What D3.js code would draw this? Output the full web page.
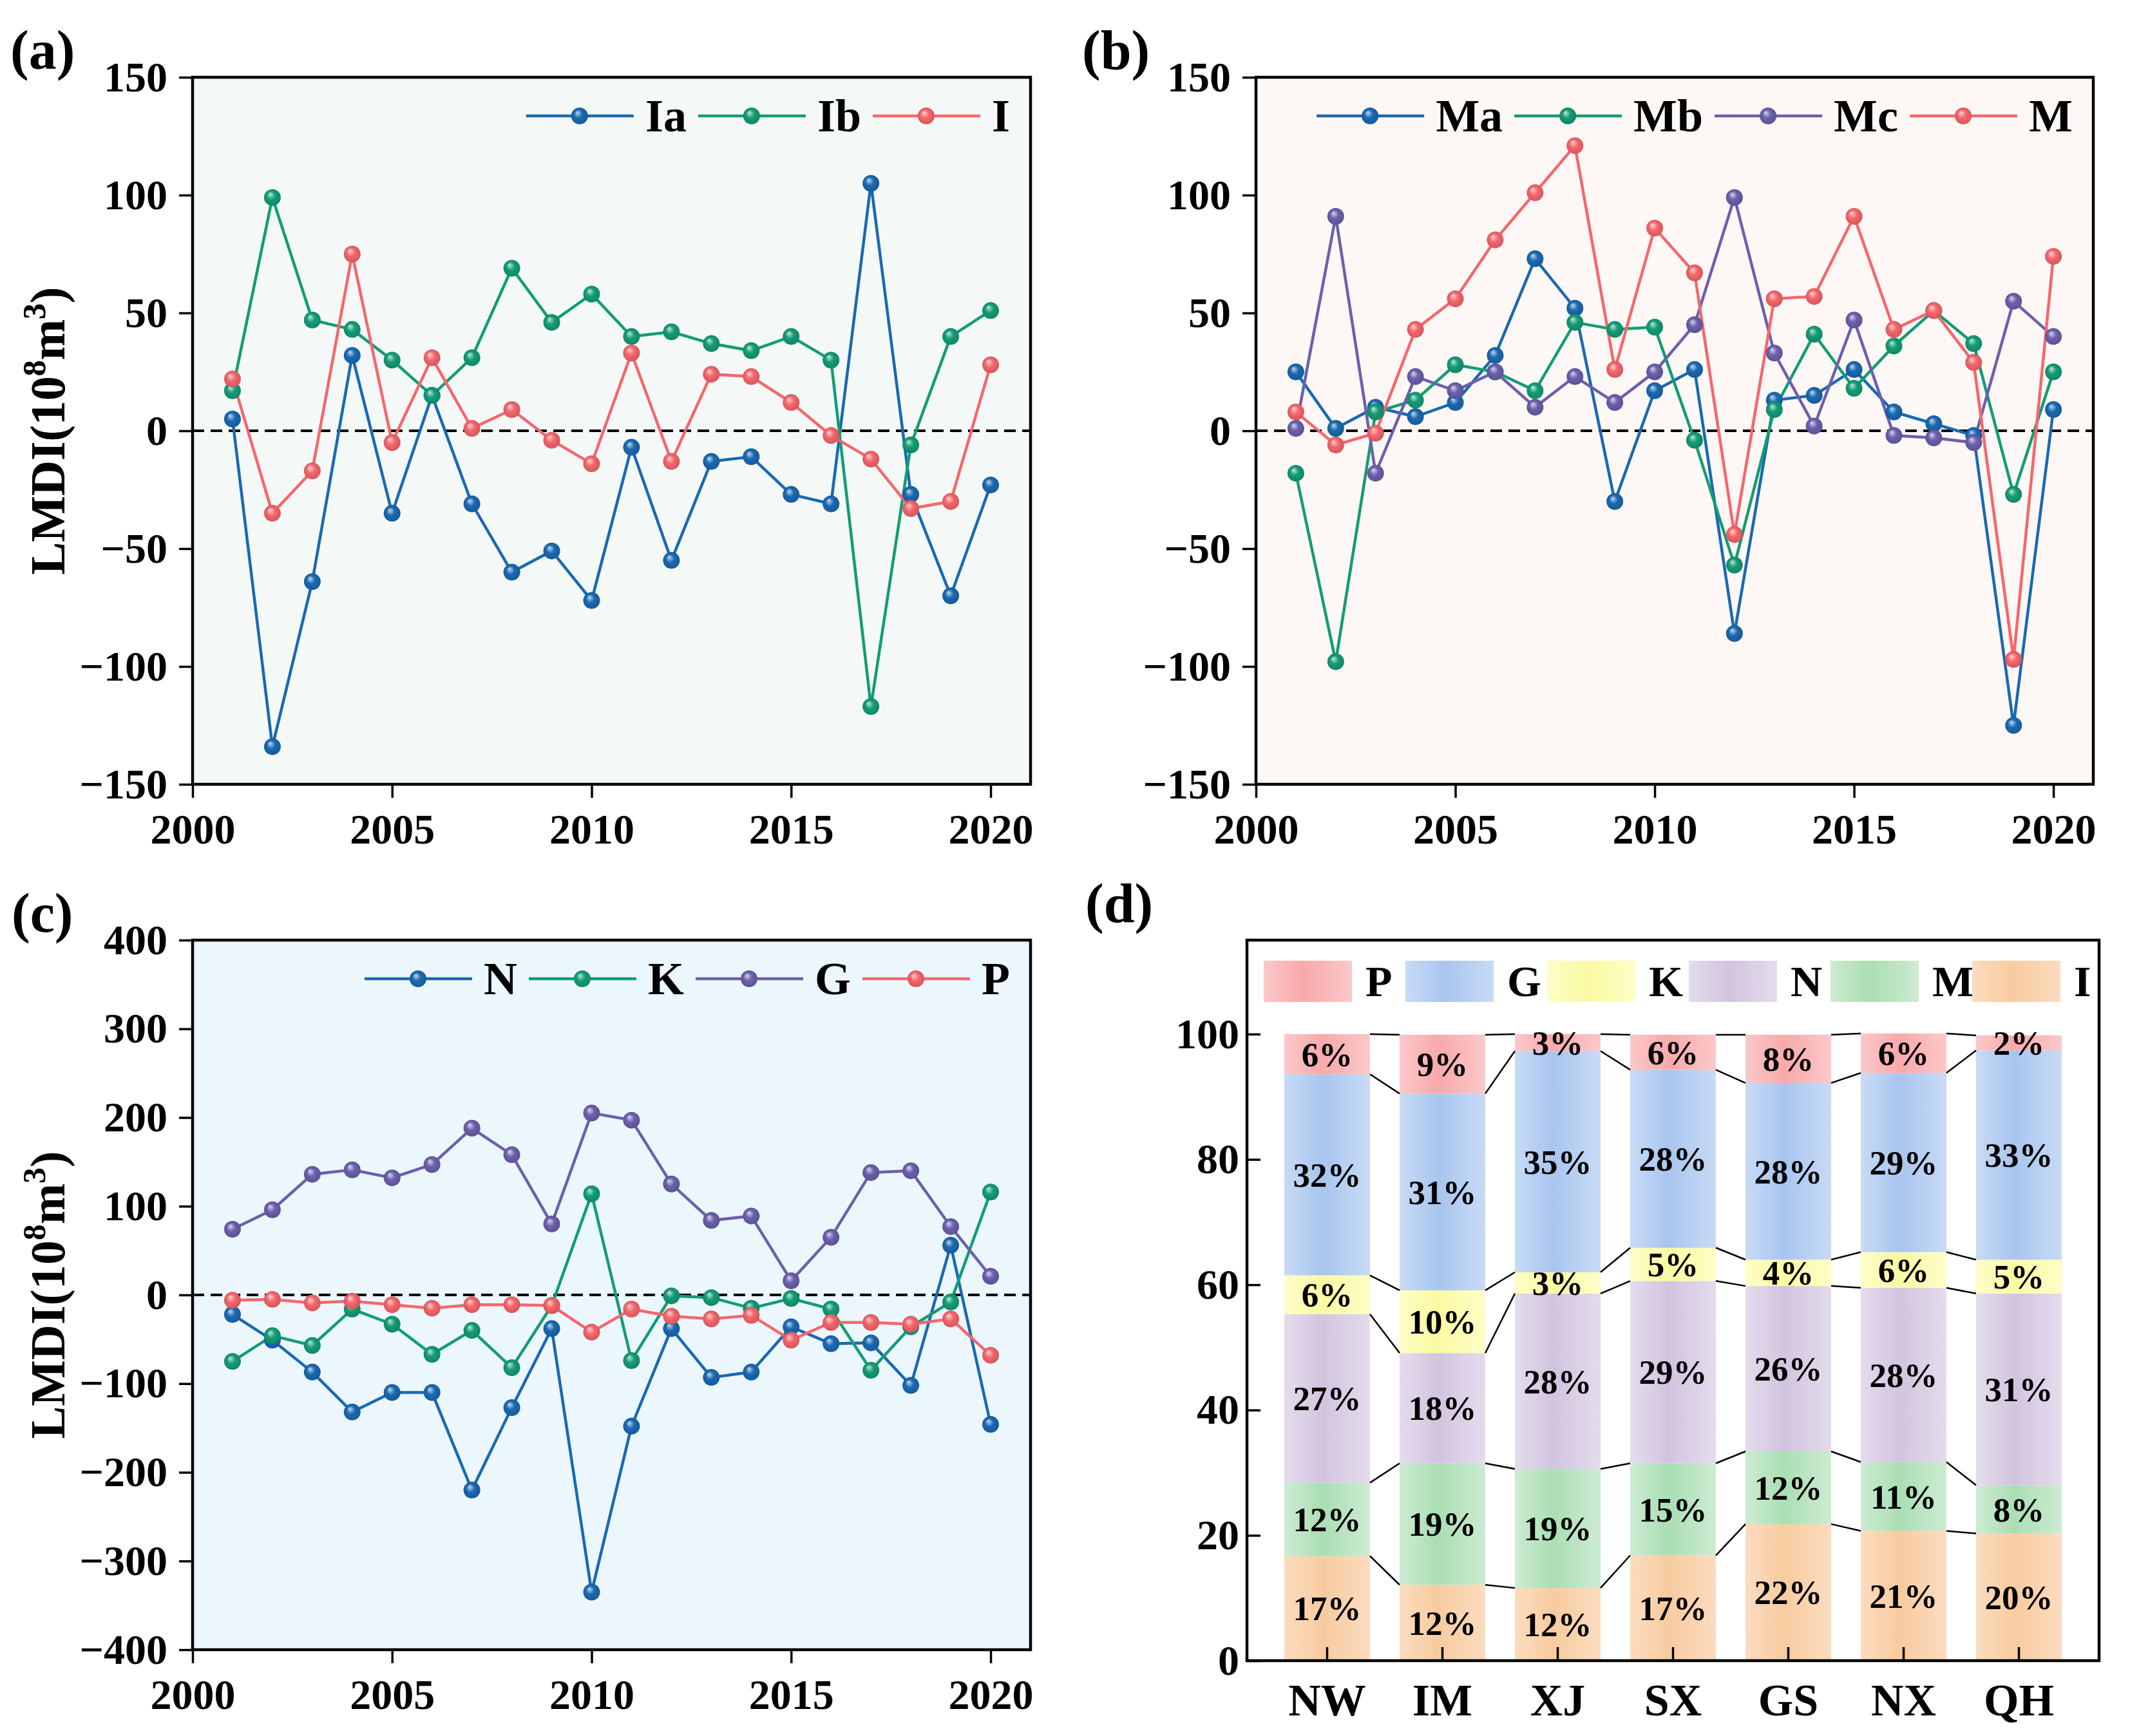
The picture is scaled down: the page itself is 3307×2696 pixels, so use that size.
<!DOCTYPE html>
<html>
<head>
<meta charset="utf-8">
<script src="https://cdn.jsdelivr.net/npm/d3@7"></script>
<style>
body{margin:0;background:#fff;}
svg text{font-family:"Liberation Serif","Times New Roman",serif;font-weight:bold;fill:#000;}
</style>
</head>
<body>
<svg id="fig" width="3307" height="2696"></svg>
<script>
// ---- data ----
var years = [2001,2002,2003,2004,2005,2006,2007,2008,2009,2010,2011,2012,2013,2014,2015,2016,2017,2018,2019,2020];
var yearTicks = [2000,2005,2010,2015,2020];
var ticksAB = [-150,-100,-50,0,50,100,150];
var ticksC = [-400,-300,-200,-100,0,100,200,300,400];
var ticksD = [0,20,40,60,80,100];

// panel (a)
var Ia = [5,-134,-64,32,-35,15,-31,-60,-51,-72,-7,-55,-13,-11,-27,-31,105,-27,-70,-23];
var Ib = [17,99,47,43,30,15,31,69,46,58,40,42,37,34,40,30,-117,-6,40,51];
var I_all = [22,-35,-17,75,-5,31,1,9,-4,-14,33,-13,24,23,12,-2,-12,-33,-30,28];

// panel (b)
var Ma = [25,1,10,6,12,32,73,52,-30,17,26,-86,13,15,26,8,3,-2,-125,9];
var Mb = [-18,-98,8,13,28,25,17,46,43,44,-4,-57,9,41,18,36,51,37,-27,25];
var Mc = [1,91,-18,23,17,25,10,23,12,25,45,99,33,2,47,-2,-3,-5,55,40];
var M_all = [8,-6,-1,43,56,81,101,121,26,86,67,-44,56,57,91,43,51,29,-97,74];

// panel (c)
var N_f = [-22,-51,-87,-132,-110,-110,-220,-127,-38,-335,-148,-38,-93,-87,-36,-55,-54,-102,56,-146];
var K_f = [-75,-46,-57,-16,-33,-67,-40,-82,-12,114,-74,-1,-3,-15,-4,-16,-85,-36,-8,116];
var G_f = [74,96,136,141,132,147,188,158,80,205,197,125,84,89,16,65,138,140,77,21];
var P_f = [-6,-5,-9,-7,-11,-15,-11,-11,-12,-42,-16,-24,-27,-23,-51,-31,-31,-33,-27,-68];

// panel (d): shares (%) per region, bottom to top
var regions = ["NW","IM","XJ","SX","GS","NX","QH"];
var factors = ["I","M","N","K","G","P"];
var shareI = [16.7,12.1,11.6,16.8,21.8,20.7,20.3];
var shareM = [11.7,19.4,19.0,14.7,11.6,11.0,7.7];
var shareN = [26.9,17.6,28.0,29.1,26.4,27.8,30.6];
var shareK = [6.2,10.0,3.4,5.3,4.2,5.7,5.4];
var shareG = [32.1,31.4,35.3,28.4,28.2,28.6,33.4];
var shareP = [6.4,9.4,2.7,5.6,7.7,6.3,2.4];

// ---- styles ----
var cBlue = "#1a69b2", cGreen = "#139c75", cRed = "#f6666c", cPurple = "#6b60ad";
var barCol = {
  P:{base:"#f8a9ab", light:"#fbc8c9"},
  G:{base:"#a8c5ef", light:"#c8dbf5"},
  K:{base:"#fafaa2", light:"#fefec8"},
  N:{base:"#d2c4df", light:"#e4dcec"},
  M:{base:"#aadeb3", light:"#cdebd2"},
  I:{base:"#f8cb9f", light:"#fbdcc0"}
};

var svg = d3.select("#fig");
var defs = svg.append("defs");
var fmt = d3.format("d");

function ballId(col){
  var id = "ball" + col.replace("#","");
  if(defs.select("#"+id).empty()){
    var rg = defs.append("radialGradient").attr("id",id)
      .attr("cx","0.5").attr("cy","0.5").attr("r","0.55")
      .attr("fx","0.36").attr("fy","0.3");
    rg.append("stop").attr("offset","0").attr("stop-color",d3.interpolateRgb(col,"#ffffff")(0.75));
    rg.append("stop").attr("offset","0.45").attr("stop-color",col);
    rg.append("stop").attr("offset","1").attr("stop-color",d3.color(col).darker(0.5));
  }
  return "url(#"+id+")";
}

function yLabel(g, x, y){
  var t = g.append("text")
    .attr("transform","translate("+x+","+y+") rotate(-90)")
    .attr("text-anchor","middle")
    .style("font-size","76px");
  t.append("tspan").text("LMDI(10");
  t.append("tspan").attr("dy",-30).style("font-size","50px").text("8");
  t.append("tspan").attr("dy",30).text("m");
  t.append("tspan").attr("dy",-30).style("font-size","50px").text("3");
  t.append("tspan").attr("dy",30).text(")");
}

function linePanel(p){
  var g = svg.append("g");
  var x = d3.scaleLinear().domain([2000,2021]).range([p.L,p.R]);
  var y = d3.scaleLinear().domain(p.dom).range([p.B,p.T]);

  g.append("rect").attr("x",p.L).attr("y",p.T)
    .attr("width",p.R-p.L).attr("height",p.B-p.T).attr("fill",p.bg);

  g.append("line")
    .attr("x1",p.L).attr("x2",p.R).attr("y1",y(0)).attr("y2",y(0))
    .attr("stroke","#000").attr("stroke-width",4).attr("stroke-dasharray","18,10");

  var line = d3.line().x(function(d,i){return x(years[i]);}).y(function(d){return y(d);});

  p.series.forEach(function(s){
    g.append("path").datum(s.values)
      .attr("d",line).attr("fill","none")
      .attr("stroke",s.color).attr("stroke-width",4.5);
  });
  p.series.forEach(function(s){
    g.selectAll(null).data(s.values).enter().append("circle")
      .attr("cx",function(d,i){return x(years[i]);})
      .attr("cy",function(d){return y(d);})
      .attr("r",13)
      .attr("fill",ballId(s.color));
  });

  var xa = g.append("g").attr("transform","translate(0,"+p.B+")")
    .call(d3.axisBottom(x).tickValues(yearTicks).tickFormat(fmt).tickSize(21).tickPadding(24));
  var ya = g.append("g").attr("transform","translate("+p.L+",0)")
    .call(d3.axisLeft(y).tickValues(p.ticks).tickFormat(fmt).tickSize(21).tickPadding(18));
  [xa,ya].forEach(function(a){
    a.select(".domain").remove();
    a.selectAll(".tick line").attr("stroke","#000").attr("stroke-width",3.5);
    a.selectAll(".tick text").style("font-size","66px").attr("fill","#000");
  });

  g.append("rect").attr("x",p.L).attr("y",p.T)
    .attr("width",p.R-p.L).attr("height",p.B-p.T)
    .attr("fill","none").attr("stroke","#000").attr("stroke-width",4.5);

  // legend
  var lg = g.append("g");
  var cx = 0;
  p.series.forEach(function(s){
    lg.append("line").attr("x1",cx).attr("x2",cx+167).attr("y1",0).attr("y2",0)
      .attr("stroke",s.color).attr("stroke-width",4.5);
    lg.append("circle").attr("cx",cx+83).attr("cy",0).attr("r",13).attr("fill",ballId(s.color));
    var t = lg.append("text").attr("x",cx+185).attr("y",0).attr("dy","0.34em")
      .style("font-size","72px").text(s.name);
    cx += 185 + t.node().getComputedTextLength() + 18;
  });
  var lw = cx - 18;
  lg.attr("transform","translate("+(p.R-32-lw)+","+(p.T+60)+")");

  g.append("text").attr("x",p.labX).attr("y",p.T-13).style("font-size","86px").text(p.label);
  yLabel(g, 100, (p.T+p.B)/2);
}

linePanel({L:299,R:1600,T:120,B:1218,dom:[-150,150],ticks:ticksAB,bg:"#f4f9f7",
  label:"(a)",labX:16,
  series:[{name:"Ia",values:Ia,color:cBlue},{name:"Ib",values:Ib,color:cGreen},{name:"I",values:I_all,color:cRed}]});

linePanel({L:1950,R:3250,T:120,B:1218,dom:[-150,150],ticks:ticksAB,bg:"#fdf8f5",
  label:"(b)",labX:1680,
  series:[{name:"Ma",values:Ma,color:cBlue},{name:"Mb",values:Mb,color:cGreen},
          {name:"Mc",values:Mc,color:cPurple},{name:"M",values:M_all,color:cRed}]});

linePanel({L:299,R:1600,T:1460,B:2562,dom:[-400,400],ticks:ticksC,bg:"#ecf7fd",
  label:"(c)",labX:18,
  series:[{name:"N",values:N_f,color:cBlue},{name:"K",values:K_f,color:cGreen},
          {name:"G",values:G_f,color:cPurple},{name:"P",values:P_f,color:cRed}]});

// ---- panel (d): stacked bars ----
(function(){
  var L = 1936, R = 3259, T = 1460, B = 2579;
  var g = svg.append("g");
  var shares = {I:shareI, M:shareM, N:shareN, K:shareK, G:shareG, P:shareP};
  var rows = regions.map(function(r,i){
    var o = {region:r};
    factors.forEach(function(f){ o[f] = shares[f][i]; });
    return o;
  });
  var stack = d3.stack().keys(factors)(rows);

  var x = d3.scaleBand().domain(regions).range([L,R]).paddingInner(0.257).paddingOuter(0.324);
  var y = d3.scaleLinear().domain([0,115]).range([B,T]);
  var bw = x.bandwidth();

  factors.forEach(function(f){
    var lgr = defs.append("linearGradient").attr("id","bar"+f).attr("x1","0").attr("x2","1").attr("y1","0").attr("y2","0");
    lgr.append("stop").attr("offset","0").attr("stop-color",barCol[f].light);
    lgr.append("stop").attr("offset","0.45").attr("stop-color",barCol[f].base);
    lgr.append("stop").attr("offset","1").attr("stop-color",barCol[f].light);
  });

  var layers = g.selectAll(".layer").data(stack).enter().append("g");
  layers.selectAll("rect").data(function(d){return d;}).enter().append("rect")
    .attr("x",function(d){return x(d.data.region);})
    .attr("width",bw)
    .attr("y",function(d){return y(d[1]);})
    .attr("height",function(d){return y(d[0])-y(d[1]);})
    .attr("fill",function(){return "url(#bar"+d3.select(this.parentNode).datum().key+")";});

  // connectors between neighbouring bars
  stack.forEach(function(s){
    for(var i=0;i<regions.length-1;i++){
      g.append("line")
        .attr("x1",x(regions[i])+bw).attr("y1",y(s[i][1]))
        .attr("x2",x(regions[i+1])).attr("y2",y(s[i+1][1]))
        .attr("stroke","#000").attr("stroke-width",2.5);
    }
  });

  layers.selectAll("text").data(function(d){return d;}).enter().append("text")
    .attr("x",function(d){return x(d.data.region)+bw/2;})
    .attr("y",function(d){return y((d[0]+d[1])/2);})
    .attr("dy","0.35em").attr("text-anchor","middle")
    .style("font-size","53px")
    .text(function(d){return Math.round(d[1]-d[0])+"%";});

  var xa = g.append("g").attr("transform","translate(0,"+B+")")
    .call(d3.axisBottom(x).tickSize(-21).tickPadding(35));
  var ya = g.append("g").attr("transform","translate("+L+",0)")
    .call(d3.axisLeft(y).tickValues(ticksD).tickFormat(fmt).tickSize(-21).tickPadding(12));
  [xa,ya].forEach(function(a){
    a.select(".domain").remove();
    a.selectAll(".tick line").attr("stroke","#000").attr("stroke-width",3.5);
    a.selectAll(".tick text").attr("fill","#000");
  });
  xa.selectAll(".tick text").style("font-size","70px");
  ya.selectAll(".tick text").style("font-size","66px");

  g.append("rect").attr("x",L).attr("y",T).attr("width",R-L).attr("height",B-T)
    .attr("fill","none").attr("stroke","#000").attr("stroke-width",4.5);

  // legend, top to bottom order
  var legendKeys = factors.slice().reverse();
  legendKeys.forEach(function(f,i){
    var lx = L + 26 + i*220;
    g.append("rect").attr("x",lx).attr("y",T+32).attr("width",137).attr("height",64)
      .attr("fill","url(#bar"+f+")");
    g.append("text").attr("x",lx+158).attr("y",T+64).attr("dy","0.34em")
      .style("font-size","68px").text(f);
  });

  g.append("text").attr("x",1685).attr("y",1432).style("font-size","86px").text("(d)");
})();
</script>
</body>
</html>
